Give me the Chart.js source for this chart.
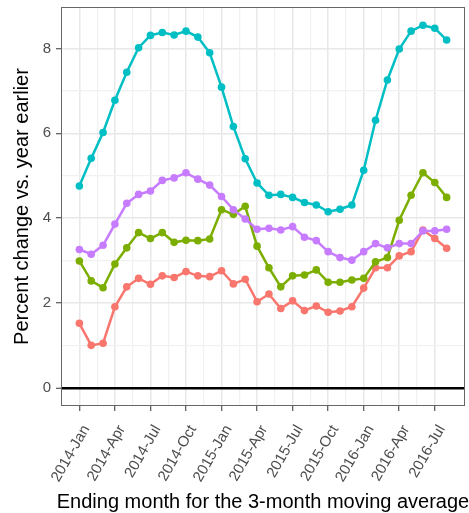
<!doctype html>
<html>
<head>
<meta charset="utf-8">
<script src="https://cdn.jsdelivr.net/npm/chart.js@4.4.1/dist/chart.umd.min.js"></script>
<style>
  html, body { margin: 0; padding: 0; background: #fff; }
  canvas { display: block; }
</style>
</head>
<body>
<canvas id="chart" width="469" height="513"></canvas>
<script>
// months on the x axis (ending month of the 3-month moving average)
var months = [
  '2014-Jan','2014-Feb','2014-Mar','2014-Apr','2014-May','2014-Jun','2014-Jul','2014-Aug',
  '2014-Sep','2014-Oct','2014-Nov','2014-Dec','2015-Jan','2015-Feb','2015-Mar','2015-Apr',
  '2015-May','2015-Jun','2015-Jul','2015-Aug','2015-Sep','2015-Oct','2015-Nov','2015-Dec',
  '2016-Jan','2016-Feb','2016-Mar','2016-Apr','2016-May','2016-Jun','2016-Jul','2016-Aug'
];

// percent change vs. year earlier, one array per group
var redSeries = [1.52, 1.00, 1.05, 1.91, 2.38, 2.58, 2.44, 2.64, 2.60, 2.74, 2.64, 2.62,
  2.76, 2.45, 2.56, 2.03, 2.21, 1.87, 2.05, 1.82, 1.93, 1.78, 1.81, 1.91,
  2.35, 2.83, 2.83, 3.11, 3.21, 3.72, 3.52, 3.29];
var greenSeries = [2.99, 2.52, 2.36, 2.92, 3.30, 3.66, 3.52, 3.66, 3.43, 3.48, 3.47, 3.51,
  4.20, 4.09, 4.28, 3.34, 2.83, 2.38, 2.64, 2.66, 2.78, 2.49, 2.49, 2.54,
  2.58, 2.97, 3.07, 3.95, 4.54, 5.07, 4.84, 4.49];
var tealSeries = [4.76, 5.41, 6.02, 6.78, 7.44, 8.02, 8.31, 8.38, 8.32, 8.41, 8.27, 7.90,
  7.09, 6.16, 5.40, 4.83, 4.54, 4.56, 4.49, 4.37, 4.31, 4.15, 4.21, 4.31,
  5.13, 6.31, 7.26, 7.99, 8.41, 8.55, 8.48, 8.20];
var purpleSeries = [3.26, 3.15, 3.36, 3.86, 4.35, 4.56, 4.64, 4.89, 4.95, 5.07, 4.92, 4.78,
  4.51, 4.20, 3.98, 3.74, 3.76, 3.72, 3.80, 3.55, 3.47, 3.21, 3.07, 3.01,
  3.21, 3.40, 3.30, 3.40, 3.40, 3.70, 3.70, 3.74];

var yTicks = [0, 2, 4, 6, 8];
var xTickEvery = 3; // a labelled tick every 3 months
var xTitle = 'Ending month for the 3-month moving average';

var FONT = '"Liberation Sans", Arial, sans-serif';

function toPoints(arr) {
  return arr.map(function(v, i) { return { x: i, y: v }; });
}

function series(label, color, values, order) {
  return {
    label: label,
    data: toPoints(values),
    borderColor: color,
    backgroundColor: color,
    borderWidth: 2.5,
    pointRadius: 3.8,
    pointBorderWidth: 0,
    pointBackgroundColor: color,
    tension: 0,
    order: order
  };
}

// frame round the panel
var panelBorder = {
  id: 'panelBorder',
  afterDatasetsDraw: function(chart) {
    var a = chart.chartArea, ctx = chart.ctx;
    ctx.save();
    ctx.strokeStyle = '#666';
    ctx.lineWidth = 1;
    ctx.strokeRect(a.left + 0.5, a.top + 0.5, a.right - a.left - 1, a.bottom - a.top - 1);
    ctx.restore();
  }
};

// x title is wider than the panel; the built-in title would squeeze it
var bottomTitle = {
  id: 'bottomTitle',
  afterDraw: function(chart) {
    var a = chart.chartArea, ctx = chart.ctx;
    ctx.save();
    ctx.fillStyle = '#000';
    ctx.font = '20px ' + FONT;
    ctx.textAlign = 'center';
    ctx.textBaseline = 'alphabetic';
    ctx.fillText(xTitle, (a.left + a.right) / 2, chart.height - 5);
    ctx.restore();
  }
};

var isMajorX = function(v) { return Math.abs(v / xTickEvery - Math.round(v / xTickEvery)) < 1e-6; };
var isMajorY = function(v) { return yTicks.indexOf(v) >= 0; };

new Chart(document.getElementById('chart').getContext('2d'), {
  type: 'line',
  data: {
    datasets: [
      series('Group 1', '#F8766D', redSeries, 4),
      series('Group 2', '#7CAE00', greenSeries, 3),
      series('Group 3', '#00BFC4', tealSeries, 2),
      series('Group 4', '#C77CFF', purpleSeries, 1)
    ]
  },
  options: {
    responsive: false,
    animation: false,
    layout: { padding: { top: 7, right: 4, bottom: 0, left: 0 } },
    plugins: { legend: { display: false }, tooltip: { enabled: false } },
    scales: {
      x: {
        type: 'linear',
        min: -1.55,
        max: months.length - 1 + 1.55,
        afterBuildTicks: function(scale) {
          var t = [];
          for (var v = 0; v <= months.length - 1; v += xTickEvery / 2) t.push({ value: v });
          scale.ticks = t;
        },
        afterFit: function(scale) {
          scale.height = 107;
          scale.paddingLeft = 0;
          scale.paddingRight = 0;
        },
        border: { display: false },
        grid: {
          color: function(c) { return isMajorX(c.tick.value) ? '#E8E8E8' : '#F1F1F1'; },
          lineWidth: function(c) { return isMajorX(c.tick.value) ? 1.5 : 1.2; },
          tickColor: function(c) { return isMajorX(c.tick.value) ? '#333' : 'rgba(0,0,0,0)'; },
          tickWidth: 1,
          tickLength: 5
        },
        ticks: {
          autoSkip: false,
          minRotation: 60,
          maxRotation: 60,
          padding: 11,
          labelOffset: 7,
          color: '#4D4D4D',
          font: { family: FONT, size: 15 },
          callback: function(v) { return isMajorX(v) ? months[Math.round(v)] : ''; }
        },
        title: { display: false }
      },
      y: {
        type: 'linear',
        min: -0.43,
        max: 8.98,
        afterBuildTicks: function(scale) {
          var t = [];
          for (var v = 0; v <= 8; v += 1) t.push({ value: v });
          scale.ticks = t;
        },
        afterFit: function(scale) {
          scale.width = 61;
          scale.paddingTop = 0;
          scale.paddingBottom = 0;
        },
        border: { display: false },
        grid: {
          color: function(c) {
            if (c.tick.value === 0) return '#000';
            return isMajorY(c.tick.value) ? '#E8E8E8' : '#F1F1F1';
          },
          lineWidth: function(c) {
            if (c.tick.value === 0) return 2.5;
            return isMajorY(c.tick.value) ? 1.5 : 1.2;
          },
          tickColor: function(c) { return isMajorY(c.tick.value) ? '#333' : 'rgba(0,0,0,0)'; },
          tickWidth: 1,
          tickLength: 5
        },
        ticks: {
          padding: 5,
          color: '#4D4D4D',
          font: { family: FONT, size: 15 },
          callback: function(v) { return isMajorY(v) ? String(v) : ''; }
        },
        title: {
          display: true,
          text: 'Percent change vs. year earlier',
          color: '#000',
          font: { family: FONT, size: 20 },
          padding: { top: 10, bottom: 0 }
        }
      }
    }
  },
  plugins: [panelBorder, bottomTitle]
});
</script>
</body>
</html>
